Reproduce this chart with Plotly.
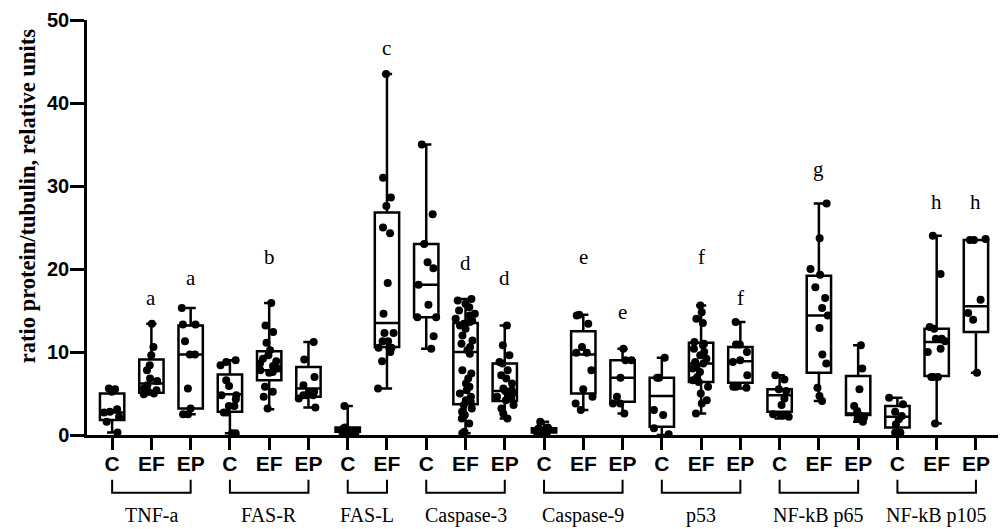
import plotly.graph_objects as go

# ---------------- data ----------------
sub_labels = ["C", "EF", "EP", "C", "EF", "EP", "C", "EF", "C", "EF", "EP",
              "C", "EF", "EP", "C", "EF", "EP", "C", "EF", "EP", "C", "EF", "EP"]
group_names = ["TNF-a", "FAS-R", "FAS-L", "Caspase-3", "Caspase-9", "p53",
               "NF-kB p65", "NF-kB p105"]
group_sizes = [3, 3, 2, 3, 3, 3, 3, 3]

tnfa_C = [5.6, 5.5, 5.2, 3.1, 2.8, 2.7, 2.2, 1.6, 0.3]
tnfa_EF = [13.4, 10.6, 9.6, 8.4, 7.8, 6.8, 6.5, 6.0, 5.6, 5.4, 5.2, 5.0, 4.9]
tnfa_EP = [15.3, 13.3, 13.3, 11.3, 9.7, 9.7, 5.6, 3.2, 2.5, 2.5]
fasr_C = [9.0, 8.8, 8.4, 6.6, 5.9, 4.8, 4.8, 4.3, 3.5, 3.5, 2.7, 2.7, 0.2, 0.2]
fasr_EF = [15.9, 13.2, 12.4, 11.1, 10.2, 9.6, 9.2, 8.9, 8.6, 8.3, 8.0, 7.8,
           7.6, 7.5, 5.8, 5.2, 4.6, 3.2]
fasr_EP = [11.2, 9.1, 7.0, 6.0, 5.2, 5.2, 4.8, 4.8, 4.8, 4.4, 3.3]
fasl_C = [3.5, 0.9, 0.8, 0.7, 0.6, 0.5, 0.4, 0.3, 0.2]
fasl_EF = [43.5, 31.0, 28.6, 27.6, 25.0, 24.3, 18.3, 14.6, 12.3, 12.3, 11.3,
           11.3, 10.5, 10.5, 10.5, 10.0, 8.9, 5.6]
casp3_C = [35.0, 26.6, 23.0, 20.8, 20.1, 18.1, 15.7, 14.2, 14.2, 11.9, 10.4]
casp3_EF = [16.4, 16.2, 15.8, 15.4, 15.0, 14.6, 14.4, 14.0, 13.8, 13.6, 13.4,
            13.2, 12.8, 12.0, 11.4, 11.0, 10.6, 10.2, 9.8, 7.8, 7.4, 6.8, 6.2,
            5.8, 5.4, 5.0, 4.6, 4.2, 4.0, 3.6, 3.2, 2.8, 2.4, 2.0, 1.4, 0.4, 0.2]
casp3_EP = [13.2, 10.8, 9.6, 8.8, 8.6, 7.8, 7.2, 6.8, 6.2, 5.6, 5.4, 5.3, 5.0,
            4.8, 4.6, 4.4, 4.2, 3.6, 3.2, 2.6, 2.0]
casp9_C = [1.6, 0.9, 0.8, 0.7, 0.6, 0.5, 0.4, 0.3, 0.2]
casp9_EF = [14.5, 14.4, 13.4, 10.6, 9.9, 9.9, 7.8, 5.5, 4.6, 3.8, 3.0]
casp9_EP = [10.4, 9.0, 9.0, 6.9, 4.6, 3.8, 3.8, 2.6]
p53_C = [9.3, 6.9, 6.9, 3.0, 2.4, 0.8, 0.1]
p53_EF = [15.6, 14.8, 14.0, 13.5, 11.2, 11.0, 10.8, 10.4, 10.0, 9.6, 9.2, 8.8,
          8.6, 8.2, 8.0, 7.6, 7.0, 6.6, 6.4, 5.8, 5.0, 4.2, 3.8, 2.6]
p53_EP = [13.6, 10.9, 10.9, 10.0, 9.0, 8.8, 7.2, 5.8, 5.8, 5.7]
p65_C = [7.2, 6.7, 5.5, 5.3, 4.4, 3.6, 2.5, 2.4, 2.4, 2.2]
p65_EF = [27.9, 23.7, 20.0, 19.3, 17.8, 16.5, 15.3, 14.4, 12.9, 9.7, 8.6, 5.7,
          4.7, 4.1]
p65_EP = [10.8, 8.0, 5.5, 3.5, 2.9, 2.4, 2.3, 2.1, 2.0, 1.6]
p105_C = [4.5, 3.7, 2.8, 2.3, 1.9, 1.3, 0.3, 0.3]
p105_EF = [24.0, 19.4, 13.0, 12.8, 11.6, 11.6, 11.3, 10.4, 10.0, 7.0, 7.0, 7.0,
           1.4]
p105_EP = [23.6, 23.5, 23.5, 16.3, 14.7, 13.9, 7.5]

all_points = [tnfa_C, tnfa_EF, tnfa_EP, fasr_C, fasr_EF, fasr_EP, fasl_C,
              fasl_EF, casp3_C, casp3_EF, casp3_EP, casp9_C, casp9_EF,
              casp9_EP, p53_C, p53_EF, p53_EP, p65_C, p65_EF, p65_EP,
              p105_C, p105_EF, p105_EP]

# box statistics (min, Q1, median, Q3, max)
box_min = [0.3, 4.9, 2.5, 0.2, 3.1, 3.3, 0.2, 5.6, 10.4, 0.2, 2.0, 0.1, 3.0,
           2.6, 0.0, 2.6, 5.6, 2.0, 4.1, 1.6, 0.2, 1.4, 7.5]
box_q1 = [1.8, 5.1, 3.2, 2.8, 6.6, 4.6, 0.4, 10.6, 14.2, 3.7, 4.1, 0.3, 5.0,
          4.0, 1.0, 6.4, 6.3, 2.8, 7.5, 2.4, 0.9, 7.1, 12.4]
box_med = [2.7, 6.2, 9.7, 4.9, 7.8, 5.6, 0.6, 13.5, 18.1, 10.0, 5.3, 0.5, 9.7,
           6.9, 4.7, 8.6, 8.9, 4.8, 14.4, 2.6, 2.2, 11.2, 15.5]
box_q3 = [5.0, 9.1, 13.2, 7.3, 10.1, 8.2, 0.9, 26.8, 23.0, 13.5, 8.6, 0.8,
          12.5, 9.0, 6.9, 11.1, 10.6, 5.5, 19.2, 7.1, 3.5, 12.8, 23.5]
box_max = [5.6, 13.4, 15.3, 9.0, 15.9, 11.2, 3.5, 43.5, 35.0, 16.4, 13.2, 1.6,
           14.5, 10.4, 9.3, 15.6, 13.6, 7.2, 27.9, 10.8, 4.5, 24.0, 23.5]

# significance letters: (category index, letter)
sig_idx = [1, 2, 4, 7, 9, 10, 12, 13, 15, 16, 18, 21, 22]
sig_txt = ["a", "a", "b", "c", "d", "d", "e", "e", "f", "f", "g", "h", "h"]

# ---------------- layout constants ----------------
sig_y = [16.5, 18.9, 21.4, 46.6, 20.7, 18.9, 21.4, 14.8, 21.4, 16.5, 32.1,
         28.1, 28.1]
serif = "Liberation Serif, Times New Roman, serif"
sans = "Liberation Sans, Arial, sans-serif"
BOXW = 0.62

xs = list(range(len(sub_labels)))

fig = go.Figure()

fig.add_trace(go.Box(
    x=xs, q1=box_q1, median=box_med, q3=box_q3,
    lowerfence=box_min, upperfence=box_max,
    boxpoints=False, width=BOXW, whiskerwidth=0.42,
    fillcolor="rgba(0,0,0,0)",
    line=dict(color="black", width=2.5),
    hoverinfo="skip", showlegend=False,
))

px_x, px_y = [], []
for i, vals in enumerate(all_points):
    px_x += [i] * len(vals)
    px_y += vals

fig.add_trace(go.Box(
    x=px_x, y=px_y, boxpoints="all", jitter=0.85, pointpos=0,
    width=BOXW, fillcolor="rgba(0,0,0,0)",
    line=dict(color="rgba(0,0,0,0)", width=0),
    marker=dict(color="black", size=8),
    hoverinfo="skip", showlegend=False,
))

annotations = []
for i, t, yv in zip(sig_idx, sig_txt, sig_y):
    annotations.append(dict(x=i, y=yv, xref="x", yref="y", text=t,
                            showarrow=False,
                            font=dict(family=serif, size=21, color="black")))

# group brackets and names
shapes = []
start = 0
for name, n in zip(group_names, group_sizes):
    x0, x1 = start, start + n - 1
    shapes.append(dict(type="path", xref="x", yref="paper",
                       path=f"M {x0},-0.108 L {x0},-0.139 L {x1},-0.139 L {x1},-0.108",
                       line=dict(color="black", width=2)))
    annotations.append(dict(x=(x0 + x1) / 2, y=-0.193, xref="x", yref="paper",
                            text=name, showarrow=False, yanchor="middle",
                            font=dict(family=serif, size=20, color="black")))
    start += n

annotations.append(dict(x=-0.064, y=0.576, xref="paper", yref="paper",
                        text="<b>ratio protein/tubulin, relative units</b>",
                        textangle=-90, showarrow=False,
                        xanchor="center", yanchor="middle",
                        font=dict(family=serif, size=22.5, color="black")))

fig.update_layout(
    width=998, height=521,
    margin=dict(l=79, r=1, t=12, b=94),
    plot_bgcolor="white", paper_bgcolor="white",
    boxmode="overlay",
    showlegend=False,
    annotations=annotations,
    shapes=shapes,
    xaxis=dict(
        range=[-0.64, 22.74], tickmode="array", tickvals=xs,
        ticktext=sub_labels, showline=True, linecolor="black", linewidth=2.5,
        ticks="outside", ticklen=12, tickwidth=2.5, tickcolor="black",
        showgrid=False, zeroline=False, ticklabelstandoff=-4,
        tickfont=dict(family=sans, size=21, color="black", weight="bold"),
    ),
    yaxis=dict(
        range=[0, 50], tickvals=[0, 10, 20, 30, 40, 50],
        showline=True, linecolor="black", linewidth=2.5,
        ticks="outside", ticklen=14, tickwidth=2.5, tickcolor="black",
        showgrid=False, zeroline=False, ticklabelstandoff=-3,
        tickfont=dict(family=sans, size=20, color="black", weight="bold"),
    ),
)

fig.write_html("out.html")
